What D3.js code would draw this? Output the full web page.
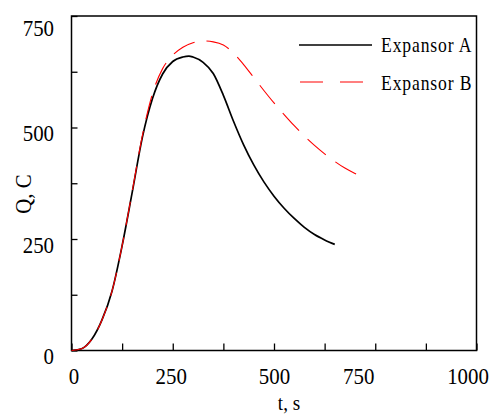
<!DOCTYPE html>
<html>
<head>
<meta charset="utf-8">
<script src="https://cdn.jsdelivr.net/npm/d3@7"></script>
<style>
  body { margin: 0; background: #fff; }
  svg text { font-family: "Liberation Serif", "DejaVu Serif", serif; fill: #000; }
</style>
</head>
<body>
<script>
// data
var tA = [0,25,50,75,100,125,150,175,200,225,250,275,290,300,325,350,375,400,425,450,475,500,525,550,575,600,625,650];
var qA = [0,4,25,68,133,235,355,478,565,620,648,658,660,658,646,621,572,514,461,416,378,346,319,296,276,260,248,238];
var tB = [0,25,50,75,100,125,150,175,200,225,250,275,300,325,350,375,400,425,450,475,500,525,550,575,600,625,650,675,700,725];
var qB = [0,4,25,68,133,235,357,482,576,632,662,680,690,694,692,685,667,641,612,583,555,529,504,481,460,441,424,409,397,388];
var seriesNames = ["Expansor A", "Expansor B"];
var xTicks = [0,125,250,375,500,625,750,875,1000];
var yTicks = [0,125,250,375,500,625,750];
var xLabels = [0,250,500,750,1000];
var yLabels = [0,250,500,750];

var W = 493, H = 414;
var svg = d3.select("body").append("svg").attr("width", W).attr("height", H)
  .attr("font-family", "Liberation Serif");

var x = d3.scaleLinear().domain([0,1000]).range([71.5,476.5]);
var y = d3.scaleLinear().domain([0,750]).range([350.5,16]);

// axes, ticks pointing inward
var xAxis = d3.axisBottom(x).tickValues(xTicks).tickSize(-7).tickSizeOuter(0)
  .tickFormat(function(d){ return xLabels.indexOf(d) >= 0 ? d : ""; });
var gx = svg.append("g").attr("transform","translate(0," + y(0) + ")").call(xAxis)
  .attr("font-family", null);
gx.select(".domain").remove();
gx.selectAll(".tick line").attr("stroke","#000").attr("stroke-width",1.3);
// a couple of labels sit left of their tick in the original
var xNudge = {750: -17, 1000: -9, 0: 2, 250: -2};
gx.selectAll(".tick text")
  .attr("y", 0).attr("dy", 0)
  .attr("x", function(d){ return (xNudge[d] || 0) / 0.87; })
  .attr("transform", "translate(0,33) scale(0.87,1)")
  .style("font-size","24px");

var yAxis = d3.axisLeft(y).tickValues(yTicks).tickSize(-6).tickSizeOuter(0)
  .tickFormat(function(d){ return yLabels.indexOf(d) >= 0 ? d : ""; });
var gy = svg.append("g").attr("transform","translate(" + x(0) + ",0)").call(yAxis)
  .attr("font-family", null);
gy.select(".domain").remove();
gy.selectAll(".tick line").attr("stroke","#000").attr("stroke-width",1.3);
gy.selectAll(".tick text")
  .attr("x", -17.5 / 0.87).attr("dy", 0)
  .attr("y", function(d){ return d === 750 ? 19 : 13; })
  .attr("transform", "scale(0.87,1)")
  .attr("text-anchor","end")
  .style("font-size","24px");

// frame
svg.append("rect")
  .attr("x", x(0)).attr("y", y(750))
  .attr("width", x(1000) - x(0)).attr("height", y(0) - y(750))
  .attr("fill","none").attr("stroke","#000").attr("stroke-width",1.5);

// curves
var lineA = d3.line().curve(d3.curveMonotoneX)
  .x(function(d,i){ return x(tA[i]); }).y(function(d){ return y(d); });
var lineB = d3.line().curve(d3.curveMonotoneX)
  .x(function(d,i){ return x(tB[i]); }).y(function(d){ return y(d); });

svg.append("path").datum(qA).attr("d", lineA)
  .attr("fill","none").attr("stroke","#000").attr("stroke-width",1.7);
svg.append("path").datum(qB).attr("d", lineB)
  .attr("fill","none").attr("stroke","#ff0000").attr("stroke-width",1.1)
  .attr("stroke-dasharray","24,12");

// axis titles
svg.append("text").attr("transform","translate(289,410) scale(0.87,1)")
  .attr("text-anchor","middle").style("font-size","22px").text("t, s");
svg.append("text").attr("transform","translate(31,194) rotate(-90) scale(0.87,1)")
  .attr("text-anchor","middle").style("font-size","24px").text("Q, C");

// legend
var leg = svg.append("g");
leg.append("line").attr("x1",299).attr("x2",372).attr("y1",45).attr("y2",45)
  .attr("stroke","#000").attr("stroke-width",1.6);
leg.append("line").attr("x1",300).attr("x2",366).attr("y1",82).attr("y2",82)
  .attr("stroke","#ff0000").attr("stroke-width",1.1).attr("stroke-dasharray","23,17");
leg.selectAll("text.lg").data(seriesNames).enter().append("text")
  .attr("class","lg")
  .attr("transform", function(d,i){ return "translate(381," + (i === 0 ? 52 : 90) + ") scale(0.88,1)"; })
  .style("font-size","20px").style("letter-spacing","1px").text(function(d){ return d; });
</script>
</body>
</html>
